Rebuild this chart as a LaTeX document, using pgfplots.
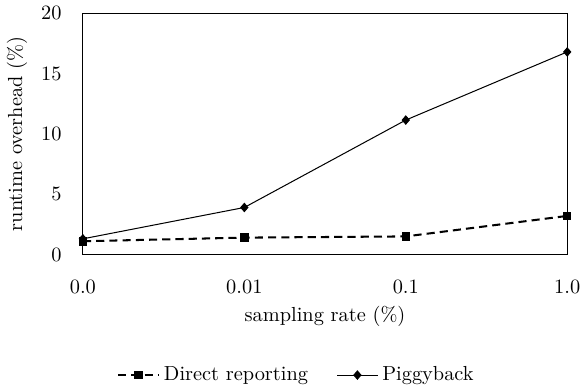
\documentclass[border=0pt]{standalone}
\usepackage{pgfplots}
\pgfplotsset{compat=1.18}
\begin{document}
\begin{tikzpicture}
\begin{axis}[
  scale only axis,
  width=238pt, height=118.5pt,
  xmin=0, xmax=3, ymin=0, ymax=20,
  xtick={0,1,2,3},
  xticklabels={0.0,0.01,0.1,1.0},
  ytick={0,5,10,15,20},
  major tick length=0pt,
  axis line style={line width=0.5pt},
  xticklabel style={yshift=-9pt},
  yticklabel style={xshift=-7pt},
  xlabel={sampling rate (\%)},
  ylabel={runtime overhead (\%)},
  xlabel style={yshift=1pt},
  ylabel style={yshift=0pt},
  legend columns=2,
  legend style={draw=none, at={(0.443,-0.50)}, anchor=center, fill=none,
    /tikz/every even column/.append style={column sep=12pt}},
  legend cell align=left,
  legend image code/.code={
    \draw[#1, mark repeat=2, mark phase=2] plot coordinates {(0pt,0pt) (10pt,0pt) (20pt,0pt)};
  },
]
\addplot[black, line width=1pt, dash pattern=on 4pt off 2.5pt, mark=square*, mark size=1.6pt, mark options={solid}]
  coordinates {(0,1.1) (1,1.4) (2,1.5) (3,3.2)};
\addlegendentry{Direct reporting}
\addplot[black, line width=0.5pt, mark=diamond*, mark size=2pt, mark options={xscale=1.15}]
  coordinates {(0,1.3) (1,3.9) (2,11.15) (3,16.8)};
\addlegendentry{Piggyback}
\end{axis}
\end{tikzpicture}
\end{document}
